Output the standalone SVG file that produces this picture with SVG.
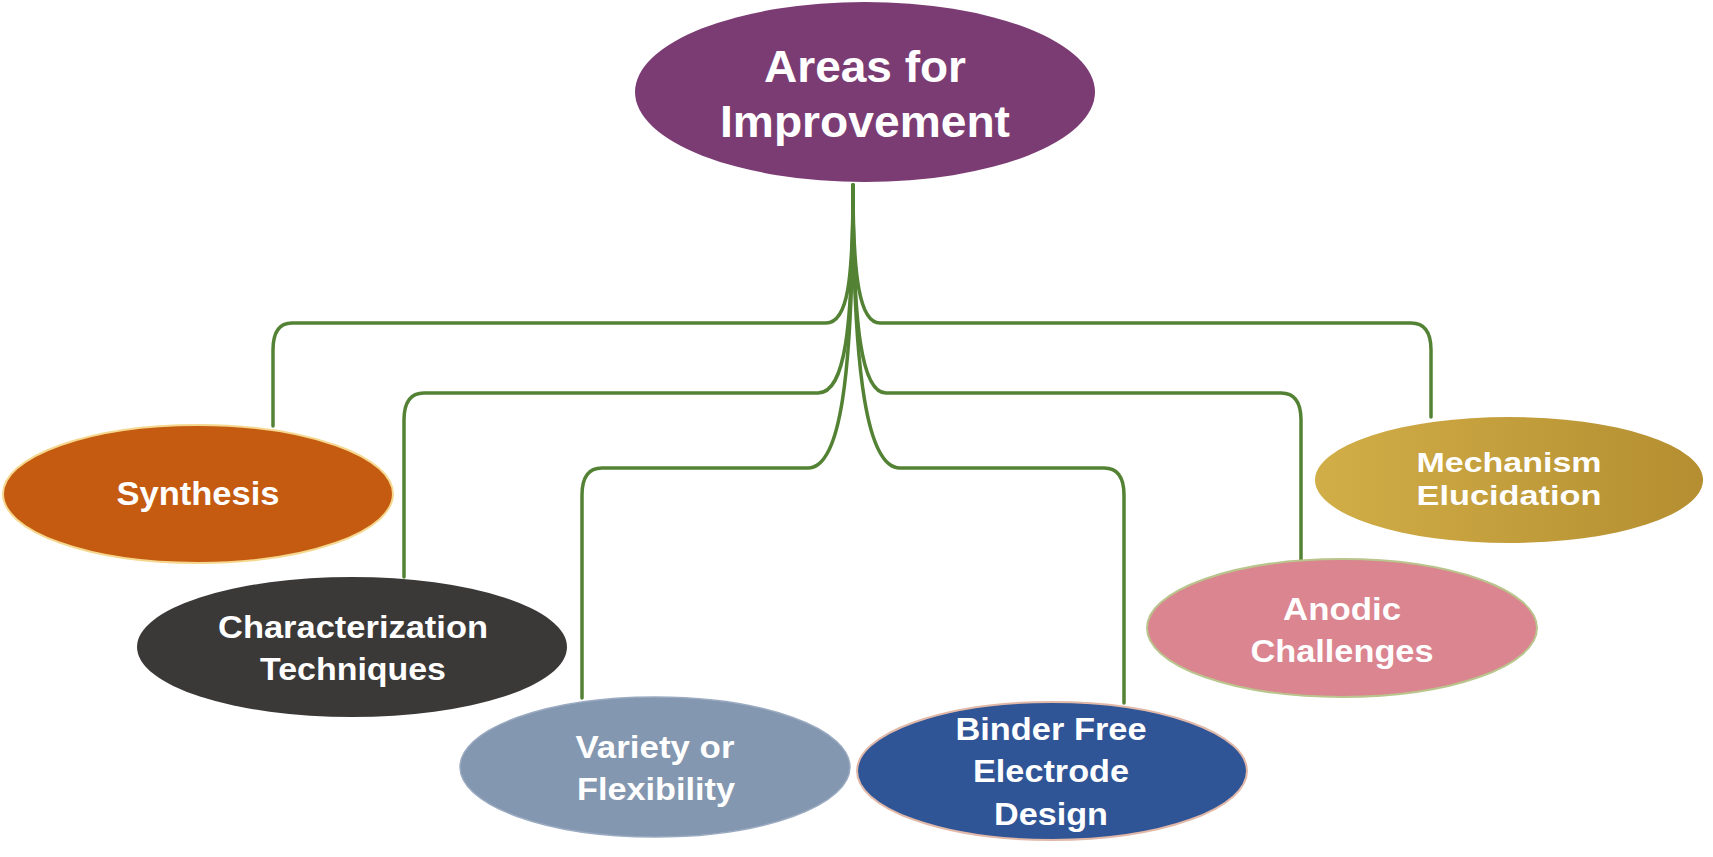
<svg xmlns="http://www.w3.org/2000/svg" width="1713" height="857" viewBox="0 0 1713 857">
<defs>
<style>
.lbl{font-family:"Liberation Sans",Arial,sans-serif;font-weight:bold;fill:#ffffff;text-anchor:middle}
.con{fill:none;stroke:#548235;stroke-width:3.5;stroke-linecap:round;stroke-linejoin:round}
</style>
<linearGradient id="gold" x1="0" y1="0" x2="1" y2="0">
<stop offset="0" stop-color="#D2AE48"/>
<stop offset="1" stop-color="#B48E30"/>
</linearGradient>
</defs>
<rect width="1713" height="857" fill="#ffffff"/>
<g id="connectors">
<path class="con" d="M853,185 C853,280 848,323 826,323 L292,323 C279,323 273,332 273,350 L273,426"/>
<path class="con" d="M853,185 C853,330 845,393 818,393 L424,393 C411,393 404,402 404,420 L404,577"/>
<path class="con" d="M853,185 C853,380 840,468 808,468 L602,468 C589,468 582,477 582,495 L582,698"/>
<path class="con" d="M853,185 C853,280 860,323 880,323 L1411,323 C1424,323 1431,332 1431,350 L1431,417"/>
<path class="con" d="M853,185 C853,330 862,393 886,393 L1281,393 C1294,393 1301,402 1301,420 L1301,560"/>
<path class="con" d="M853,185 C853,380 868,468 900,468 L1104,468 C1117,468 1124,477 1124,495 L1124,703"/>
</g>
<g id="root">
<ellipse cx="865" cy="92" rx="230" ry="90" fill="#7B3C74"/>
<text class="lbl" x="865" y="82" font-size="45" textLength="202" lengthAdjust="spacingAndGlyphs">Areas for</text>
<text class="lbl" x="865" y="137" font-size="45" textLength="290" lengthAdjust="spacingAndGlyphs">Improvement</text>
</g>
<g id="synthesis">
<ellipse cx="198" cy="494" rx="195" ry="69" fill="#C55A11" stroke="#F5D78E" stroke-width="2"/>
<text class="lbl" x="198" y="505" font-size="33" textLength="163" lengthAdjust="spacingAndGlyphs">Synthesis</text>
</g>
<g id="characterization">
<ellipse cx="352" cy="647" rx="215" ry="70" fill="#3B3838"/>
<text class="lbl" x="353" y="638" font-size="31" textLength="270" lengthAdjust="spacingAndGlyphs">Characterization</text>
<text class="lbl" x="353" y="680" font-size="31" textLength="186" lengthAdjust="spacingAndGlyphs">Techniques</text>
</g>
<g id="variety">
<ellipse cx="655" cy="767" rx="195" ry="70" fill="#8497B0" stroke="#9AAAC0" stroke-width="1.5"/>
<text class="lbl" x="655" y="758" font-size="32" textLength="159" lengthAdjust="spacingAndGlyphs">Variety or</text>
<text class="lbl" x="656" y="800" font-size="32" textLength="158" lengthAdjust="spacingAndGlyphs">Flexibility</text>
</g>
<g id="binder">
<ellipse cx="1052" cy="771" rx="195" ry="69" fill="#2F5597" stroke="#E2B8A8" stroke-width="2"/>
<text class="lbl" x="1051" y="740" font-size="32" textLength="191" lengthAdjust="spacingAndGlyphs">Binder Free</text>
<text class="lbl" x="1051" y="782" font-size="32" textLength="156" lengthAdjust="spacingAndGlyphs">Electrode</text>
<text class="lbl" x="1051" y="825" font-size="32" textLength="114" lengthAdjust="spacingAndGlyphs">Design</text>
</g>
<g id="anodic">
<ellipse cx="1342" cy="628" rx="195" ry="69" fill="#DA8590" stroke="#B9C58C" stroke-width="2"/>
<text class="lbl" x="1342" y="620" font-size="32" textLength="118" lengthAdjust="spacingAndGlyphs">Anodic</text>
<text class="lbl" x="1342" y="662" font-size="32" textLength="183" lengthAdjust="spacingAndGlyphs">Challenges</text>
</g>
<g id="mechanism">
<ellipse cx="1509" cy="480" rx="194" ry="63" fill="url(#gold)"/>
<text class="lbl" x="1509" y="472" font-size="28" textLength="185" lengthAdjust="spacingAndGlyphs">Mechanism</text>
<text class="lbl" x="1509" y="505" font-size="28" textLength="185" lengthAdjust="spacingAndGlyphs">Elucidation</text>
</g>
</svg>
